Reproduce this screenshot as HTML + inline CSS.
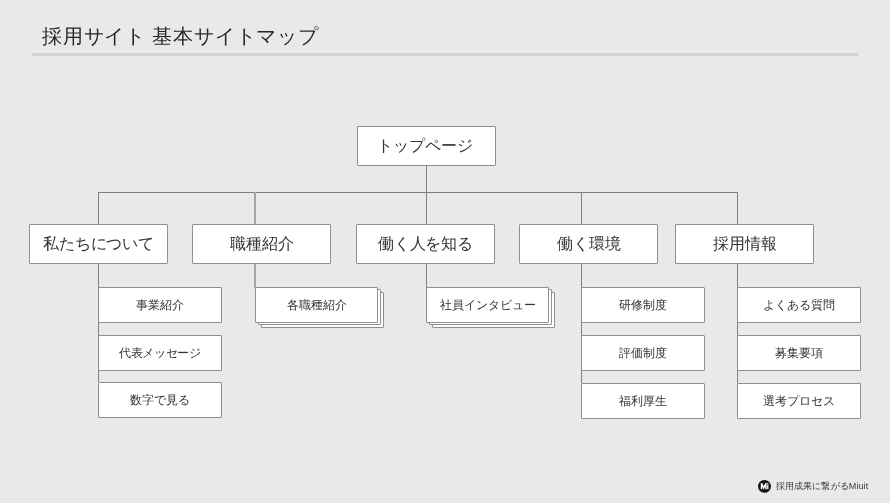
<!DOCTYPE html>
<html lang="ja">
<head>
<meta charset="utf-8">
<style>
html,body{margin:0;padding:0;}
body{width:890px;height:503px;background:#e9e9e9;position:relative;overflow:hidden;font-family:"Liberation Sans",sans-serif;color:#333;}
.t{position:absolute;left:42px;top:22px;font-size:20px;line-height:28px;white-space:nowrap;letter-spacing:0.8px;color:#262626;will-change:transform;}
.ul{position:absolute;left:32px;top:53px;width:826px;height:3px;background:#d3d3d3;}
.b{position:absolute;box-sizing:border-box;background:#fff;border:1px solid #8f8f8f;border-radius:1px;display:flex;align-items:center;justify-content:center;white-space:nowrap;will-change:transform;}
.l1{height:40px;font-size:16px;}
.l1 span{letter-spacing:-0.25px;margin-right:0.25px;}
.k span{letter-spacing:0;margin-right:0;}
.l2{height:36px;font-size:12px;}
.h{position:absolute;background:#808080;height:1px;}
.v{position:absolute;background:#808080;width:1px;}
.ft{position:absolute;left:776px;top:480px;font-size:9px;line-height:12px;white-space:nowrap;color:#3a3a3a;letter-spacing:0.1px;will-change:transform;}
.lg{position:absolute;left:756px;top:477px;}
.logo{position:absolute;left:758px;top:479.5px;width:13px;height:13px;border-radius:50%;background:#111;color:#fff;font-size:9px;font-weight:bold;font-style:italic;line-height:13px;text-align:center;letter-spacing:-0.6px;will-change:transform;}
</style>
</head>
<body>
<div class="t">採用サイト 基本サイトマップ</div>
<div class="ul"></div>

<!-- connectors -->
<div class="v" style="left:426px;top:166px;height:58px;"></div>
<div class="h" style="left:98px;top:192px;width:640px;"></div>
<div class="v" style="left:98px;top:192px;height:32px;"></div>
<div class="v" style="left:254px;top:192px;height:32px;width:2px;background:#a6a6a6;"></div>
<div class="v" style="left:581px;top:192px;height:32px;"></div>
<div class="v" style="left:737px;top:192px;height:32px;"></div>

<div class="v" style="left:98px;top:263px;height:119px;"></div>
<div class="v" style="left:254px;top:263px;height:25px;width:2px;background:#a6a6a6;"></div>
<div class="v" style="left:426px;top:263px;height:25px;"></div>
<div class="v" style="left:581px;top:263px;height:120px;"></div>
<div class="v" style="left:737px;top:263px;height:120px;"></div>

<!-- top -->
<div class="b l1" style="left:357px;top:126px;width:139px;"><span style="letter-spacing:0;margin-right:3px;">トップページ</span></div>

<!-- level 1 -->
<div class="b l1" style="left:29px;top:224px;width:139px;"><span>私たちについて</span></div>
<div class="b l1 k" style="left:192px;top:224px;width:139px;"><span>職種紹介</span></div>
<div class="b l1" style="left:356px;top:224px;width:139px;"><span>働く人を知る</span></div>
<div class="b l1 k" style="left:519px;top:224px;width:139px;"><span>働く環境</span></div>
<div class="b l1 k" style="left:675px;top:224px;width:139px;"><span>採用情報</span></div>

<!-- level 2 -->
<div class="b l2" style="left:98px;top:287px;width:124px;">事業紹介</div>
<div class="b l2" style="left:98px;top:335px;width:124px;"><span style="letter-spacing:-0.4px;margin-right:0.4px">代表メッセージ</span></div>
<div class="b l2" style="left:98px;top:382px;width:124px;">数字で見る</div>

<div class="b l2" style="left:261px;top:292px;width:123px;"></div>
<div class="b l2" style="left:258px;top:289px;width:123px;"></div>
<div class="b l2" style="left:255px;top:287px;width:123px;">各職種紹介</div>

<div class="b l2" style="left:432px;top:292px;width:123px;"></div>
<div class="b l2" style="left:429px;top:289px;width:123px;"></div>
<div class="b l2" style="left:426px;top:287px;width:123px;">社員インタビュー</div>

<div class="b l2" style="left:581px;top:287px;width:124px;">研修制度</div>
<div class="b l2" style="left:581px;top:335px;width:124px;">評価制度</div>
<div class="b l2" style="left:581px;top:383px;width:124px;">福利厚生</div>

<div class="b l2" style="left:737px;top:287px;width:124px;">よくある質問</div>
<div class="b l2" style="left:737px;top:335px;width:124px;">募集要項</div>
<div class="b l2" style="left:737px;top:383px;width:124px;">選考プロセス</div>

<svg class="lg" width="18" height="18" viewBox="0 0 18 18"><circle cx="8.5" cy="9.35" r="6.45" fill="#141414"/><path d="M5.5 12.3V6.2L7.7 11L9.9 6.2V12.3" stroke="#fff" stroke-width="1.4" fill="none" stroke-linejoin="miter"/><rect x="10.9" y="7.6" width="1.6" height="4.7" fill="#d8d8d8"/><rect x="10.9" y="5.9" width="1.6" height="1.2" fill="#d8d8d8"/></svg>
<div class="ft">採用成果に繋がるMiuit</div>
</body>
</html>
